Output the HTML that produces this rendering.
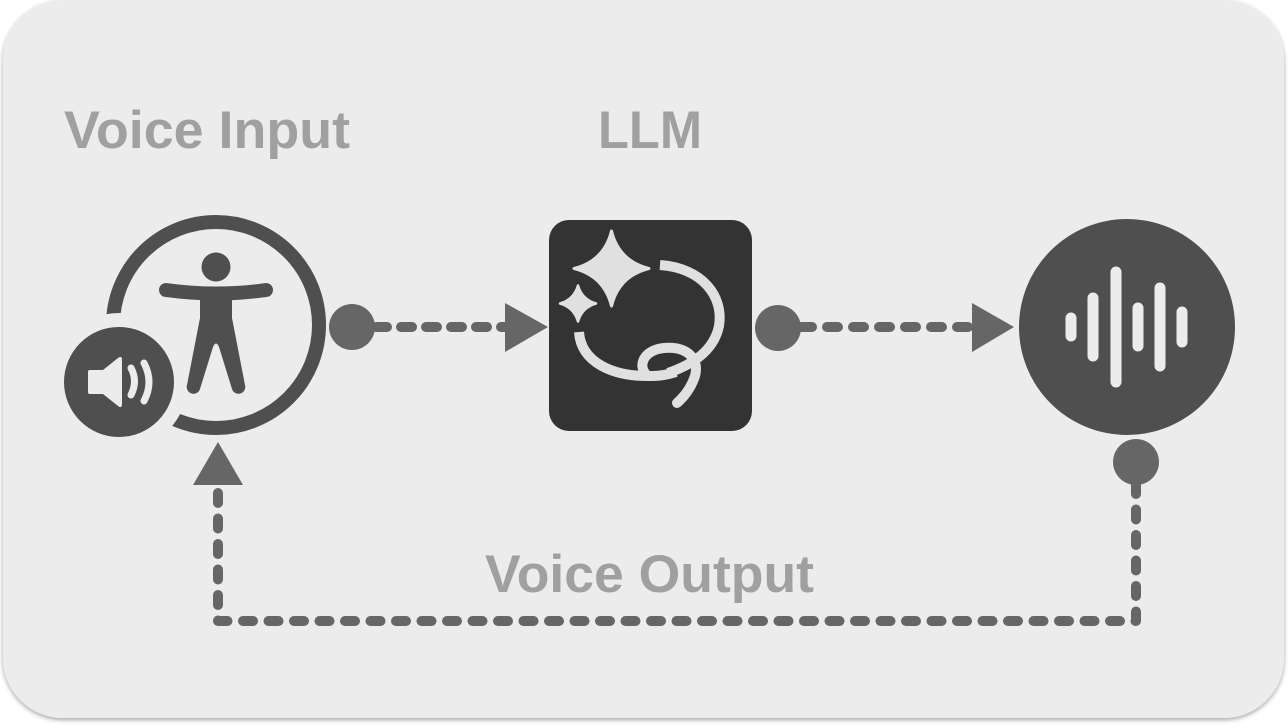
<!DOCTYPE html>
<html>
<head>
<meta charset="utf-8">
<style>
  html, body { margin: 0; padding: 0; background: #ffffff; }
  body { width: 1288px; height: 728px; overflow: hidden; }
  svg { display: block; }
  text { font-family: "Liberation Sans", "DejaVu Sans", sans-serif; font-weight: bold; fill: #a0a0a0; }
</style>
</head>
<body>
<svg width="1288" height="728" viewBox="0 0 1288 728" xmlns="http://www.w3.org/2000/svg">
  <defs>
    <filter id="sh" x="-5%" y="-5%" width="110%" height="115%">
      <feGaussianBlur in="SourceAlpha" stdDeviation="2.5"/>
      <feOffset dx="0" dy="2" result="b"/>
      <feComponentTransfer><feFuncA type="linear" slope="0.35"/></feComponentTransfer>
      <feMerge><feMergeNode/><feMergeNode in="SourceGraphic"/></feMerge>
    </filter>
  </defs>

  <!-- card -->
  <rect x="3" y="0" width="1281" height="718" rx="60" ry="60" fill="#ececec" filter="url(#sh)"/>

  <!-- titles -->
  <text x="64" y="148" font-size="53" textLength="286" lengthAdjust="spacingAndGlyphs">Voice Input</text>
  <text x="598" y="148" font-size="53" textLength="104" lengthAdjust="spacingAndGlyphs">LLM</text>
  <text x="485" y="592" font-size="53" textLength="329" lengthAdjust="spacingAndGlyphs">Voice Output</text>

  <!-- Accessibility icon -->
  <circle cx="216" cy="325" r="103" fill="none" stroke="#4f4f4f" stroke-width="14"/>
  <circle cx="119" cy="382" r="69" fill="#ececec"/>
  <circle cx="119" cy="382" r="55" fill="#4f4f4f"/>
  <!-- speaker -->
  <path d="M90,370 H103 L118,358 Q122,355 122,360 V404 Q122,409 118,406 L103,394 H90 Q88,394 88,392 V372 Q88,370 90,370 Z" fill="#ececec"/>
  <path d="M131,368 Q138,381 131,395" fill="none" stroke="#ececec" stroke-width="7" stroke-linecap="round"/>
  <path d="M144,363 Q154,382 144,401" fill="none" stroke="#ececec" stroke-width="7" stroke-linecap="round"/>
  <!-- person -->
  <circle cx="216" cy="267" r="14.5" fill="#4f4f4f"/>
  <path d="M166,290 Q216,297 266,290" fill="none" stroke="#4f4f4f" stroke-width="14" stroke-linecap="round"/>
  <path d="M200,292 H232 V318 L245,385 A6.5,6.5 0 0 1 232,389 L219,347 Q216,340 213,347 L200,389 A6.5,6.5 0 0 1 187,385 L200,318 Z" fill="#4f4f4f"/>

  <!-- LLM box -->
  <rect x="549" y="220" width="203" height="211" rx="20" ry="20" fill="#333333"/>
  <!-- sparkles -->
  <path d="M611.5,231 Q619,261 649,268.5 Q619,276 611.5,306 Q604,276 574,268.5 Q604,261 611.5,231 Z" fill="#e0e0e0" stroke="#e0e0e0" stroke-width="3" stroke-linejoin="round"/>
  <path d="M578,285.5 Q582,299.5 596,303.5 Q582,307.5 578,321.5 Q574,307.5 560,303.5 Q574,299.5 578,285.5 Z" fill="#e0e0e0" stroke="#e0e0e0" stroke-width="2.5" stroke-linejoin="round"/>
  <!-- swirl -->
  <g fill="none" stroke="#e0e0e0" stroke-width="10">
    <path d="M660,265 C702,268 724,296 719,326 C714,350 694,364 668,373"/>
    <path d="M579,332 C581,362 612,377 652,376 C662,376 670,374 676,372"/>
    <path d="M648,376 C637,368 642,350 664,348 C686,346 700,358 695,376 C691,388 685,396 677,403" stroke-linecap="round"/>
  </g>

  <!-- Wave circle -->
  <circle cx="1127" cy="327" r="108" fill="#4f4f4f"/>
  <g stroke="#ececec" stroke-width="11" stroke-linecap="round">
    <line x1="1071" y1="318" x2="1071" y2="336"/>
    <line x1="1093" y1="298" x2="1093" y2="356"/>
    <line x1="1116" y1="272" x2="1116" y2="382"/>
    <line x1="1138" y1="308" x2="1138" y2="346"/>
    <line x1="1160" y1="288" x2="1160" y2="366"/>
    <line x1="1182" y1="312" x2="1182" y2="342"/>
  </g>

  <!-- connectors -->
  <g fill="#666666">
    <circle cx="352" cy="327" r="23"/>
    <polygon points="505,303 548,327 505,352"/>
    <circle cx="778" cy="328" r="23"/>
    <polygon points="972,303 1014,327 972,352"/>
    <circle cx="1136" cy="462" r="23"/>
    <polygon points="193,485 218,442 243,485"/>
  </g>
  <g fill="none" stroke="#666666" stroke-width="10" stroke-linecap="round" stroke-linejoin="round">
    <path d="M376,327 H505" stroke-dasharray="11 14"/>
    <path d="M801,327 H972" stroke-dasharray="11 15"/>
    <path d="M1136,484 V621 H218 V485" stroke-dasharray="10 15.5"/>
  </g>
</svg>
</body>
</html>
